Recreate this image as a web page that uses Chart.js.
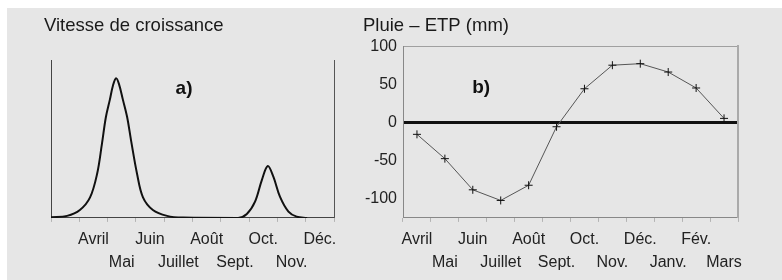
<!DOCTYPE html>
<html>
<head>
<meta charset="utf-8">
<script src="https://cdn.jsdelivr.net/npm/chart.js@4.4.1/dist/chart.umd.min.js"></script>
<style>
  html, body { margin: 0; padding: 0; background: #fff; }
  #panel { position: absolute; left: 7px; top: 8px; width: 775px; height: 272px; background: #e6e6e6; }
  #growth { position: absolute; left: 0; top: 0; }
  #rain { position: absolute; left: 350px; top: 0; }
</style>
</head>
<body>
<div id="panel"></div>
<canvas id="growth" width="350" height="280"></canvas>
<canvas id="rain" width="432" height="280"></canvas>
<script>
// a) growth rate, x in months from the left axis (0 = start of March)
const growthMonths = ["", "Avril", "Mai", "Juin", "Juillet", "Août", "Sept.", "Oct.", "Nov.", "Déc."];
const growthX = [0, 0.57, 1.02, 1.38, 1.63, 1.8, 1.94, 2.08, 2.19, 2.3, 2.4, 2.54, 2.69, 2.83, 3.04, 3.25, 3.6, 4.1, 4.66,
                 6.61, 6.92, 7.21, 7.45, 7.66, 7.86, 8.09, 8.39, 8.68, 9.05];
const growthRate = [0.5, 1.3, 5, 13, 28, 47, 64, 75, 84, 88.6, 85, 75, 64, 49, 28, 13, 5, 1.3, 0.2,
                    0, 2.5, 10.3, 24, 32.9, 26, 13.5, 4, 0.8, 0];

// b) rain minus ETP (mm)
const rainMonths = ["Avril", "Mai", "Juin", "Juillet", "Août", "Sept.", "Oct.", "Nov.", "Déc.", "Janv.", "Fév.", "Mars"];
const rainBalance = [-16, -48, -89, -103, -83, -6, 44, 75, 77, 66, 45, 5];

const FONT = "'Liberation Sans', Arial, sans-serif";
Chart.defaults.font.family = FONT;

// labels alternate between two rows
function stagger(names, firstRowParity) {
  return names.map((m, i) => (i % 2 === firstRowParity ? [m, ""] : ["", m]));
}

const panelLabel = {
  id: "panelLabel",
  afterDatasetsDraw(chart, args, opts) {
    const ctx = chart.ctx;
    const x = chart.scales[opts.xAxis].getPixelForValue(opts.x);
    const y = chart.scales.y.getPixelForValue(opts.y);
    ctx.save();
    ctx.font = "bold 19px " + FONT;
    ctx.fillStyle = "#111";
    ctx.textAlign = "center";
    ctx.textBaseline = "middle";
    ctx.fillText(opts.text, x, y);
    ctx.restore();
  },
};

const tickFont = { size: 16, lineHeight: 1.44 };
const titleFont = { size: 18.5, weight: "normal" };

new Chart(document.getElementById("growth"), {
  type: "line",
  data: {
    labels: stagger(growthMonths, 1),
    datasets: [
      {
        data: growthX.map((x, i) => ({ x: x, y: growthRate[i] })),
        xAxisID: "xc",
        borderColor: "#111",
        borderWidth: 2,
        pointRadius: 0,
        tension: 0.35,
        fill: false,
      },
    ],
  },
  options: {
    responsive: false,
    animation: false,
    layout: { padding: { left: 44, right: 16, top: 0, bottom: 0 } },
    plugins: {
      legend: { display: false },
      tooltip: { enabled: false },
      title: {
        display: true,
        text: "Vitesse de croissance",
        align: "start",
        color: "#1a1a1a",
        font: titleFont,
        padding: { top: 15, bottom: 23 },
      },
      panelLabel: { text: "a)", xAxis: "xc", x: 4.7, y: 81.6 },
    },
    scales: {
      x: {
        type: "category",
        offset: true,
        grid: { offset: true, drawOnChartArea: false, tickLength: 4, color: "#b4b4b4" },
        border: { color: "#444", width: 1 },
        ticks: { autoSkip: false, maxRotation: 0, minRotation: 0, padding: 6, color: "#222", font: tickFont },
      },
      xc: { type: "linear", display: false, min: 0, max: 10 },
      y: {
        min: 0,
        max: 100,
        ticks: { display: false },
        grid: { display: false },
        border: { color: "#444", width: 1 },
        afterFit(s) { s.width = 7; },
      },
      yr: {
        position: "right",
        min: 0,
        max: 1,
        ticks: { display: false },
        grid: { display: false },
        border: { color: "#555", width: 1 },
        afterFit(s) { s.width = 0; },
      },
    },
  },
  plugins: [panelLabel],
});

new Chart(document.getElementById("rain"), {
  type: "line",
  data: {
    labels: stagger(rainMonths, 0),
    datasets: [
      {
        data: rainBalance,
        borderColor: "#555",
        borderWidth: 1,
        tension: 0,
        pointStyle: "cross",
        pointRadius: 4,
        pointBorderColor: "#111",
        pointBorderWidth: 1,
        fill: false,
      },
    ],
  },
  options: {
    responsive: false,
    animation: false,
    layout: { padding: { left: 13, right: 44, top: 0, bottom: 0 } },
    plugins: {
      legend: { display: false },
      tooltip: { enabled: false },
      title: {
        display: true,
        text: "Pluie – ETP (mm)",
        align: "start",
        color: "#1a1a1a",
        font: titleFont,
        padding: { top: 15, bottom: 9 },
      },
      panelLabel: { text: "b)", xAxis: "x", x: 2.3, y: 45 },
    },
    scales: {
      x: {
        type: "category",
        offset: true,
        grid: { offset: true, drawOnChartArea: false, tickLength: 4, color: "#b4b4b4" },
        border: { color: "#888", width: 1 },
        ticks: { autoSkip: false, maxRotation: 0, minRotation: 0, padding: 6, color: "#222", font: tickFont },
      },
      xt: {
        position: "top",
        min: 0,
        max: 1,
        ticks: { display: false },
        grid: { display: false },
        border: { color: "#a0a0a0", width: 1 },
        afterFit(s) { s.height = 0; },
      },
      y: {
        min: -126,
        max: 100,
        ticks: { stepSize: 50, includeBounds: false, padding: 6, color: "#222", font: { size: 16 } },
        grid: {
          drawTicks: false,
          color: (c) => (c.tick && c.tick.value === 0 ? "#111" : "rgba(0,0,0,0)"),
          lineWidth: (c) => (c.tick && c.tick.value === 0 ? 3 : 1),
        },
        border: { color: "#888", width: 1 },
        afterFit(s) { s.width = 40; },
      },
      yr: {
        position: "right",
        min: 0,
        max: 1,
        ticks: { display: false },
        grid: { display: false },
        border: { color: "#aaa", width: 2 },
        afterFit(s) { s.width = 0; },
      },
    },
  },
  plugins: [panelLabel],
});
</script>
</body>
</html>
